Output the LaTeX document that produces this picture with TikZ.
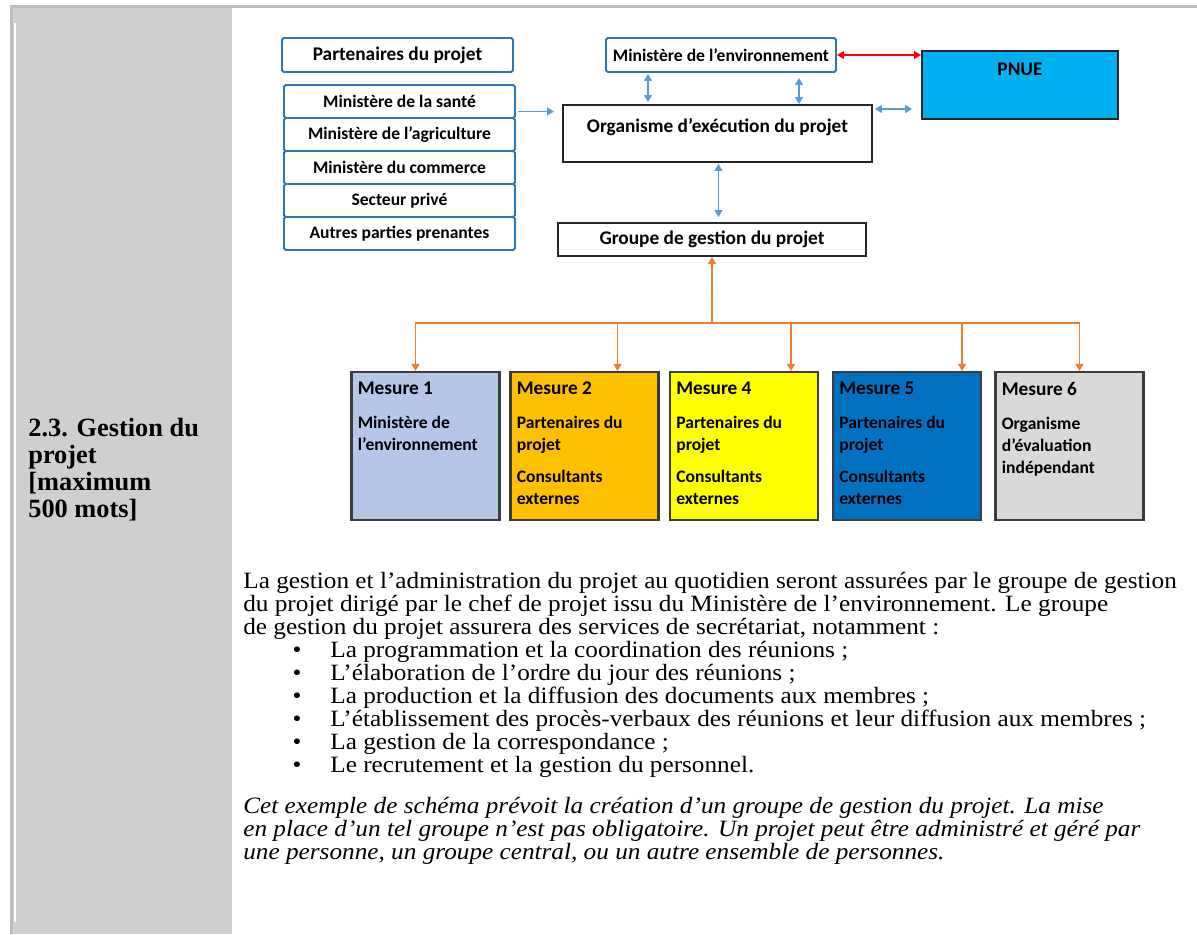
\documentclass[tikz,border=0pt]{standalone}
\usepackage{fontspec}
\setmainfont{Liberation Serif}
\newfontfamily\diagfont{Carlito}
\newfontfamily\bodyfont[FakeStretch=1.08]{Liberation Serif}
\usepackage{tikz}
\usetikzlibrary{arrows.meta, calc}
\usepackage{xcolor}

\definecolor{boxblue}{RGB}{46,117,182}
\definecolor{arrblue}{RGB}{91,155,213}
\definecolor{pnueblue}{RGB}{0,176,240}
\definecolor{arrorange}{RGB}{237,125,49}
\definecolor{colgray}{RGB}{208,207,208}
\definecolor{rulegray}{RGB}{190,190,190}
\definecolor{mborder}{RGB}{60,60,60}
\definecolor{mfillA}{RGB}{180,199,231}
\definecolor{mfillB}{RGB}{255,192,0}
\definecolor{mfillC}{RGB}{255,255,0}
\definecolor{mfillD}{RGB}{0,112,192}
\definecolor{mfillE}{RGB}{217,217,217}

\newcommand{\mtitle}[1]{{\fontsize{11}{12.5}\selectfont #1}}

\begin{document}
\begin{tikzpicture}[x=0.02cm, y=-0.02cm, >={Triangle[width=4.5pt,length=4pt]},
  lbox/.style={draw=boxblue, line width=1.1pt, rounded corners=1pt, minimum width=4.62cm,
    minimum height=0.66cm, inner sep=0pt, font=\diagfont\bfseries\fontsize{10}{12}\selectfont},
  kbox/.style={draw=black!85, line width=1.1pt, inner sep=0pt, font=\diagfont\bfseries\fontsize{11}{13}\selectfont},
  mbox/.style={draw=mborder, line width=1.2pt, minimum width=2.96cm, minimum height=2.96cm, inner sep=0pt},
  mtext/.style={anchor=north west, align=left, inner sep=0pt, font=\diagfont\bfseries\fontsize{10}{12.5}\selectfont},
  bline/.style={arrblue, line width=0.9pt},
  oline/.style={arrorange, line width=1pt},
  body/.style={anchor=base west, inner sep=0pt, font=\bodyfont\fontsize{13.3}{13}\selectfont}]

  \useasboundingbox (0,0) rectangle (1197,934);

  % table frame and left column
  \fill[colgray] (13,8) rectangle (232,934);
  \fill[rulegray] (10,5) rectangle (1197,8);
  \fill[rulegray] (10,5) rectangle (13,934);
  \draw[white, line width=0.8pt] (14.8,23) -- (14.8,922);
  \node[anchor=north west, align=left, inner sep=0pt, font=\bfseries\fontsize{15}{15.3}\selectfont]
    (title) at (28,418) {2.3. Gestion du\\projet\\{[}maximum\\500 mots{]}};

  % partners
  \node[lbox, minimum height=0.68cm, font=\diagfont\bfseries\fontsize{11}{13}\selectfont] (parten) at (397.5,55) {Partenaires du projet};
  \node[lbox] (sante) at (399.5,101.5) {Ministère de la santé};
  \node[lbox] (agri) at (399.5,134.5) {Ministère de l’agriculture};
  \node[lbox] (comm) at (399.5,167.5) {Ministère du commerce};
  \node[lbox] (secteur) at (399.5,200.5) {Secteur privé};
  \node[lbox] (autres) at (399.5,233.5) {Autres parties prenantes};

  % central boxes
  \node[lbox, minimum width=4.6cm, minimum height=0.68cm] (minenv) at (721,55) {Ministère de l’environnement};
  \node[kbox, fill=pnueblue, minimum width=3.92cm, minimum height=1.36cm,
    label={[anchor=north, inner sep=0pt, yshift=-0.26cm, font=\diagfont\bfseries\fontsize{11}{13}\selectfont]north:PNUE}] (pnue) at (1020,85) {};
  \node[kbox, minimum width=6.18cm, minimum height=1.14cm,
    label={[anchor=north, inner sep=0pt, yshift=-0.28cm, font=\diagfont\bfseries\fontsize{11}{13}\selectfont]north:Organisme d’exécution du projet}] (org) at (717.5,133.5) {};
  \node[kbox, minimum width=6.16cm, minimum height=0.66cm] (groupe) at (712,239.5) {Groupe de gestion du projet};

  \draw[bline, ->] ($(sante.east)+(2,10)$) -- ($(org.west |- sante.east)+(-8,10)$);
  \draw[bline, <->] ($(minenv.south)+(-73,1)$) -- ($(minenv.south |- org.north)+(-73,-2)$);
  \draw[bline, <->] ($(minenv.south)+(78,5)$) -- ($(minenv.south |- org.north)+(78,0)$);
  \draw[<->, red, line width=0.9pt] (minenv.east) -- (minenv.east -| pnue.west);
  \draw[bline, <->] ($(org.north east)+(2,5)$) -- ($(pnue.west |- org.north east)+(-9,5)$);
  \draw[bline, <->] ($(org.south)+(1,1)$) -- ($(org.south |- groupe.north)+(1,-5)$);

  % measures
  \node[mbox, fill=mfillA] (m1) at (425.5,446) {};
  \node[mbox, fill=mfillB] (m2) at (584.5,446) {};
  \node[mbox, fill=mfillC] (m4) at (744,446) {};
  \node[mbox, fill=mfillD] (m5) at (907,446) {};
  \node[mbox, fill=mfillE] (m6) at (1069.5,446) {};

  \node[mtext] (m1t) at ($(m1.north west)+(7,11)$) {\mtitle{Mesure 1}\\[6.8pt]Ministère de\\l’environnement};
  \node[mtext] (m2t) at ($(m2.north west)+(7,11)$) {\mtitle{Mesure 2}\\[6.8pt]Partenaires du\\projet\\[5.6pt]Consultants\\externes};
  \node[mtext] (m4t) at ($(m4.north west)+(7,11)$) {\mtitle{Mesure 4}\\[6.8pt]Partenaires du\\projet\\[5.6pt]Consultants\\externes};
  \node[mtext] (m5t) at ($(m5.north west)+(7,11)$) {\mtitle{Mesure 5}\\[6.8pt]Partenaires du\\projet\\[5.6pt]Consultants\\externes};
  \node[mtext] (m6t) at ($(m6.north west)+(7,11)$) {\mtitle{Mesure 6}\\[6.8pt]Organisme\\d’évaluation\\indépendant};

  \coordinate (busL) at (415,323);
  \coordinate (busR) at (1080,323);
  \draw[oline] (busL) -- (busR);
  \draw[oline, ->] (busL -| groupe.south) -- (groupe.south);
  \foreach \m/\dx in {m1/-10, m2/33, m4/47, m5/55, m6/10} {
    \coordinate (drop) at ($(\m.north)+(\dx,0)$);
    \draw[oline, ->] (drop |- busL) -- (drop);
  }

  % text below the chart
  \node[body] (p1) at (243,588) {La gestion et l’administration du projet au quotidien seront assurées par le groupe de gestion};
  \node[body] (p2) at (243,611) {du projet dirigé par le chef de projet issu du Ministère de l’environnement. Le groupe};
  \node[body] (p3) at (243,634) {de gestion du projet assurera des services de secrétariat, notamment :};

  \foreach \y [count=\i] in {657,680,703,726,749,772}
    \node[body, anchor=base] (d\i) at (297,\y) {\textbullet};
  \node[body] (b1) at (330,657) {La programmation et la coordination des réunions ;};
  \node[body] (b2) at (330,680) {L’élaboration de l’ordre du jour des réunions ;};
  \node[body] (b3) at (330,703) {La production et la diffusion des documents aux membres ;};
  \node[body] (b4) at (330,726) {L’établissement des procès-verbaux des réunions et leur diffusion aux membres ;};
  \node[body] (b5) at (330,749) {La gestion de la correspondance ;};
  \node[body] (b6) at (330,772) {Le recrutement et la gestion du personnel.};

  \node[body, font=\bodyfont\itshape\fontsize{13.3}{13}\selectfont] (c1) at (243,813) {Cet exemple de schéma prévoit la création d’un groupe de gestion du projet. La mise};
  \node[body, font=\bodyfont\itshape\fontsize{13.3}{13}\selectfont] (c2) at (243,836) {en place d’un tel groupe n’est pas obligatoire. Un projet peut être administré et géré par};
  \node[body, font=\bodyfont\itshape\fontsize{13.3}{13}\selectfont] (c3) at (243,859) {une personne, un groupe central, ou un autre ensemble de personnes.};
\end{tikzpicture}
\end{document}
